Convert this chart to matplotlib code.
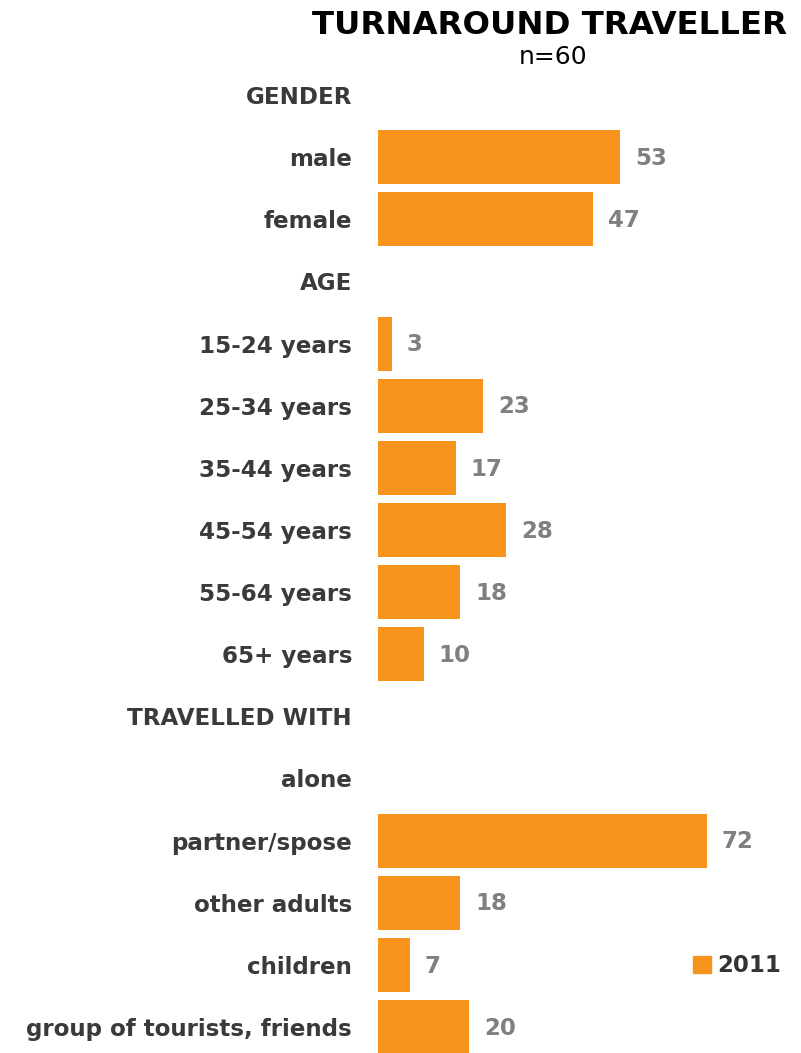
import numpy as np
import matplotlib.pyplot as plt

categories = ["GENDER", "male", "female", "AGE", "15-24 years", "25-34 years",
              "35-44 years", "45-54 years", "55-64 years", "65+ years",
              "TRAVELLED WITH", "alone", "partner/spose", "other adults",
              "children", "group of tourists, friends"]
values_2011 = [None, 53, 47, None, 3, 23, 17, 28, 18, 10,
               None, None, 72, 18, 7, 20]

orange = "#F7941D"
label_col = "#3a3a3a"
value_col = "#808080"

W, H = 801, 1053
fig = plt.figure(figsize=(W / 100, H / 100), dpi=100)
# axes placed in pixel terms
left, right, top, bottom = 378, 790, 64, 1053
ax = fig.add_axes([left / W, 1 - bottom / H, (right - left) / W, (bottom - top) / H])

step = 62.13
ymax = (bottom - 95) / step
px = 4.565  # pixels per unit

y = np.arange(len(categories))
for i, v in enumerate(values_2011):
    if v is None:
        continue
    ax.barh(i, v, height=0.87, color=orange, edgecolor="none")
    ax.text(v + 15 / px, i + 0.02, str(v), ha="left", va="center",
            fontsize=16.5, fontweight="bold", color=value_col)

ax.set_xlim(0, (right - left) / px)
ax.set_ylim(ymax, -0.5)
ax.set_yticks(y)
ax.set_yticklabels(categories, fontsize=16.6, fontweight="bold", color=label_col)
ax.tick_params(axis="y", length=0, pad=18.7)
ax.set_xticks([])
for s in ax.spines.values():
    s.set_visible(False)

fig.text(549 / W, 1 - 25 / H, "TURNAROUND TRAVELLER", ha="center", va="center",
         fontsize=23.3, fontweight="bold", color="black")
fig.text(553 / W, 1 - 57 / H, "n=60", ha="center", va="center",
         fontsize=18, color="black")

# legend
leg = ax.legend(handles=[plt.Rectangle((0, 0), 1, 1, color=orange)], labels=["2011"],
                loc="center left", bbox_to_anchor=((682 - left) / (right - left), 1 - (966 - top) / (bottom - top)),
                frameon=False, handlelength=0.75, handleheight=0.75, handletextpad=0.3,
                borderpad=0, prop={"size": 16.5, "weight": "bold"})
for t in leg.get_texts():
    t.set_color("#333333")

fig.savefig("out.png", dpi=100)
